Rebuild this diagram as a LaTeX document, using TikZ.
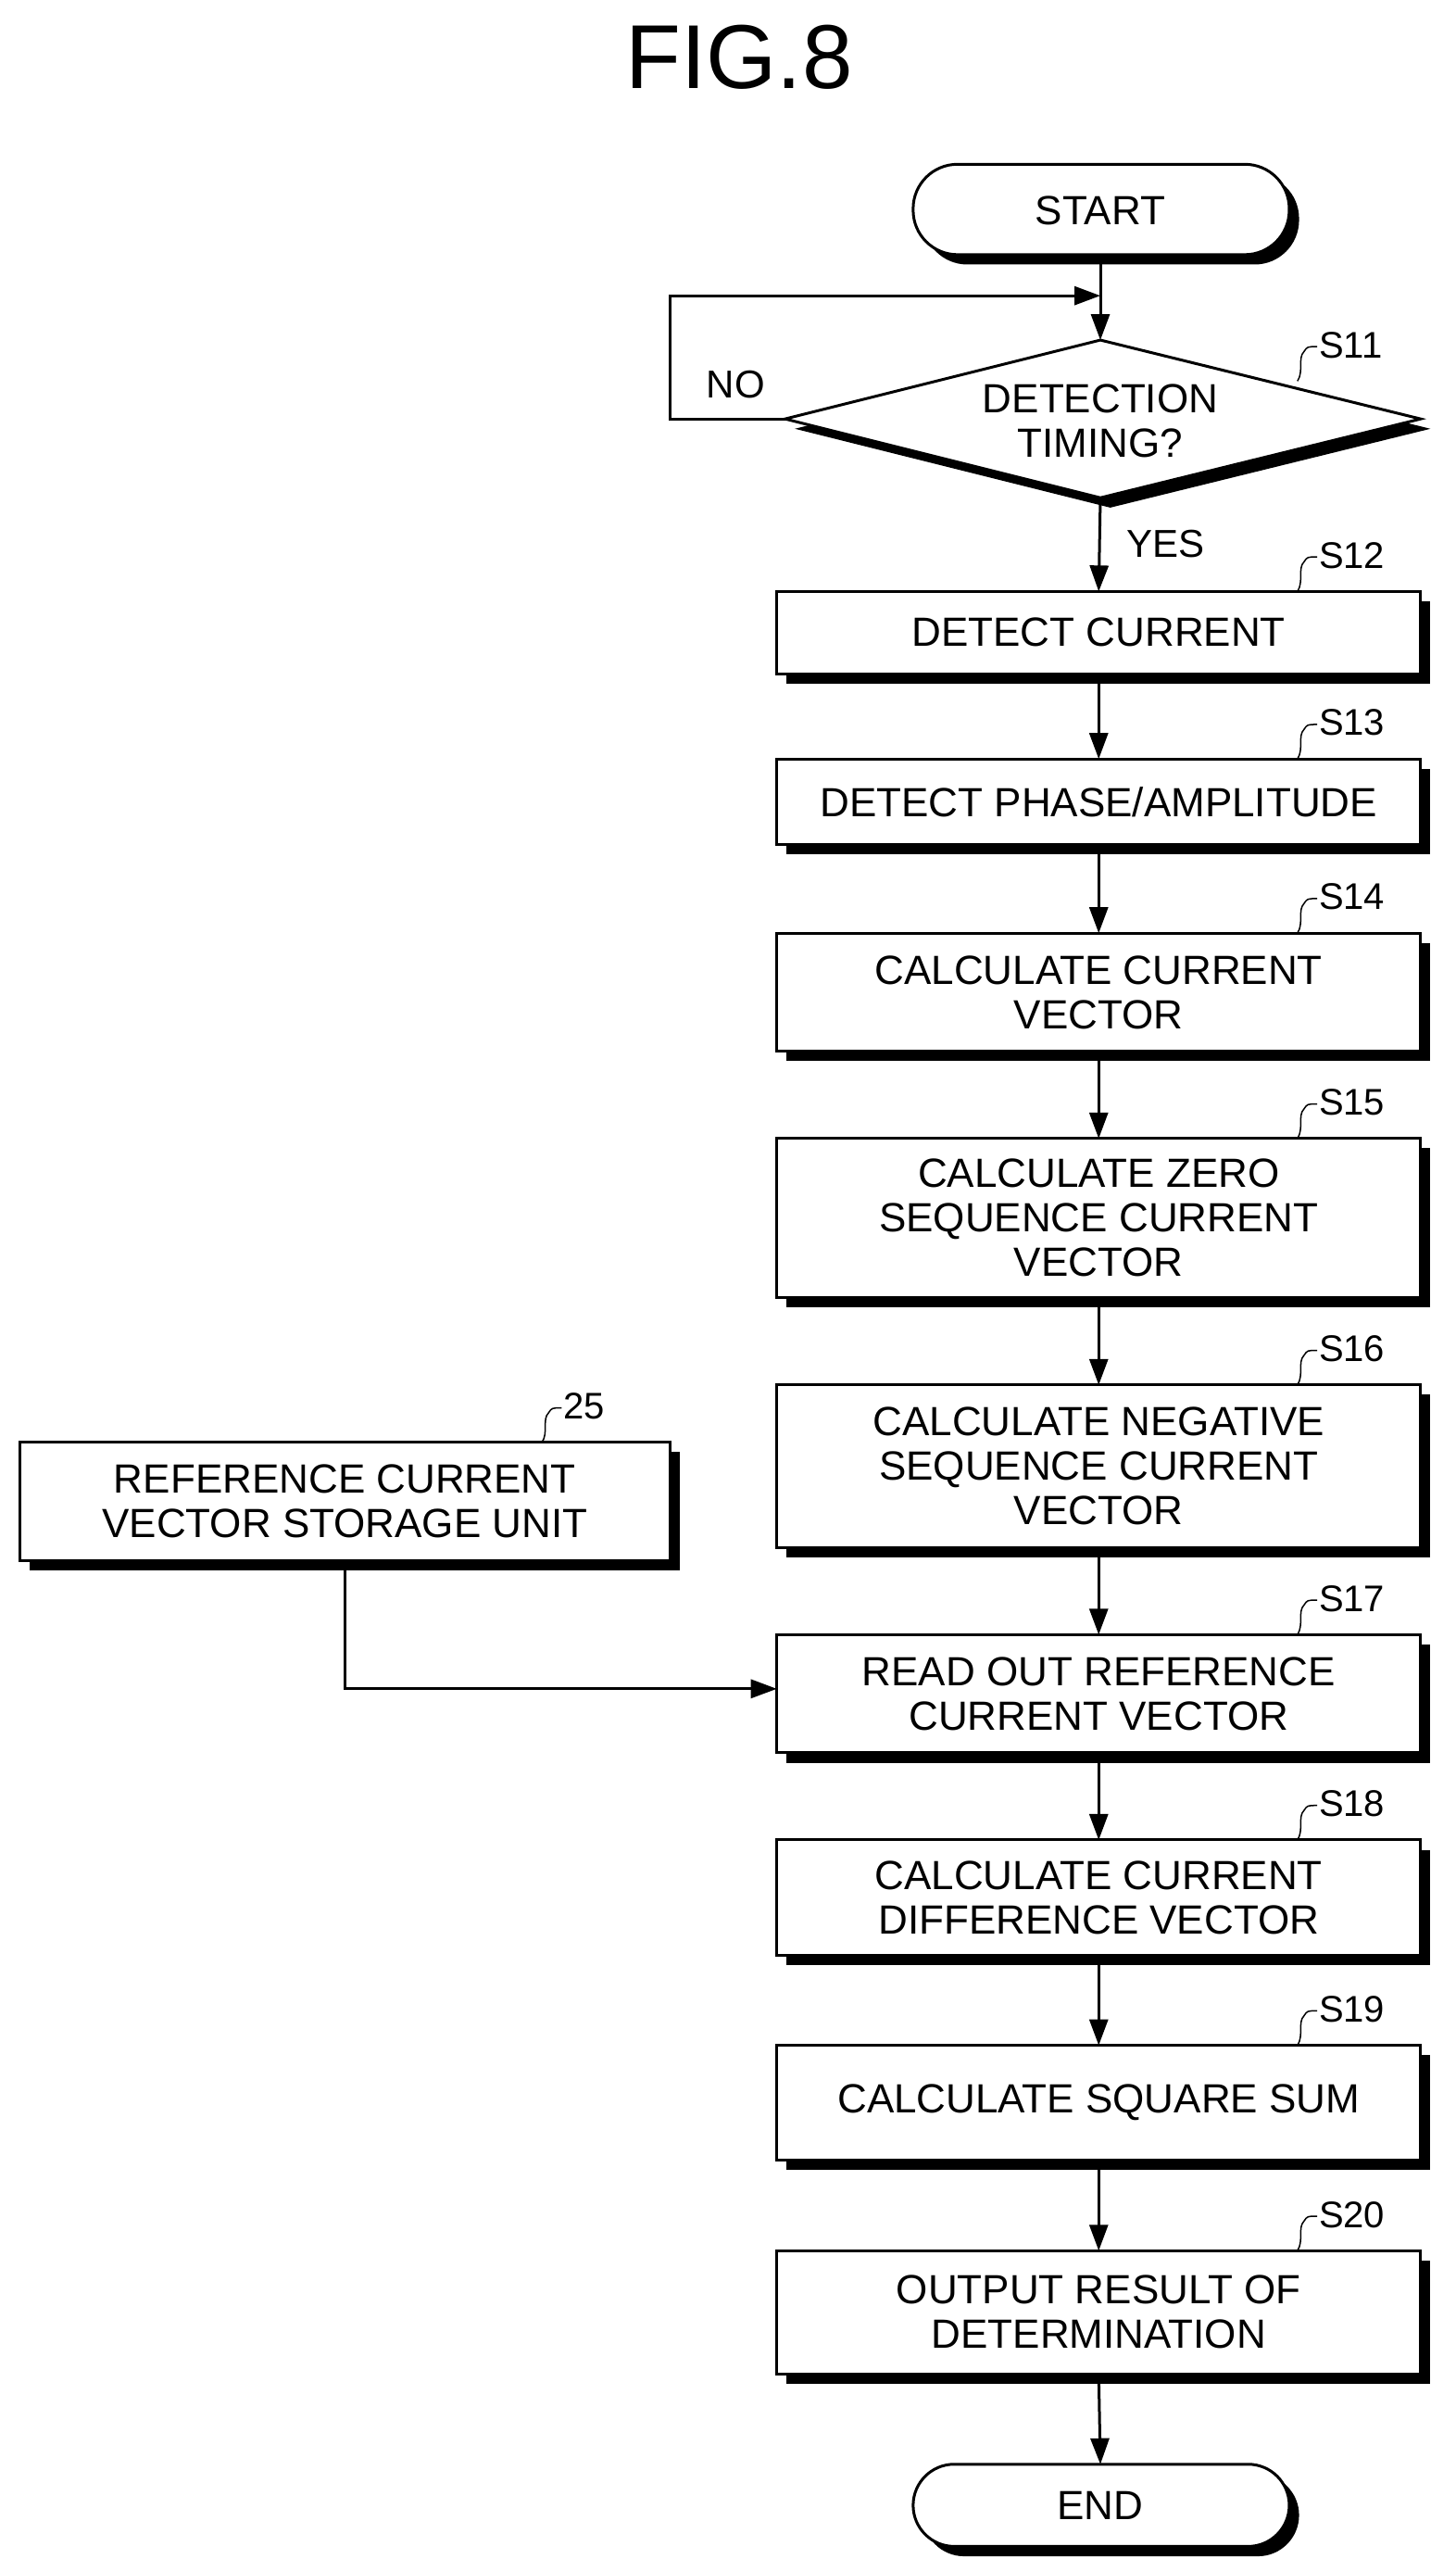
\documentclass[tikz,border=0pt]{standalone}
\usepackage{fontspec}
\setmainfont{Liberation Sans}
\usetikzlibrary{shapes.geometric,arrows.meta}
\begin{document}
\begin{tikzpicture}[x=1.773pt,y=-1.773pt,
  txt/.style={font=\fontsize{44}{48}\selectfont, align=center, inner sep=0pt},
  lab/.style={font=\fontsize{42}{46}\selectfont, inner sep=0pt},
  ln/.style={line width=3pt},
  arr/.style={ln,-{Triangle[length=28pt,width=20pt]}}]
\useasboundingbox (0,0) rectangle (886,1565);
\node[font=\fontsize{98}{100}\selectfont] (title) at (450,35) {FIG.8};
\newcommand{\shbox}[5]{% name, x1,y1,x2,y2
  \fill[black] (#2+6,#3+6) rectangle (#4+6,#5+6);
  \draw[ln,fill=white] (#2,#3) rectangle (#4,#5);
  \coordinate (#1) at ({(#2+#4)/2},{(#3+#5)/2});
  \coordinate (#1t) at ({(#2+#4)/2},#3);
  \coordinate (#1b) at ({(#2+#4)/2},#5);
}
% START
\fill[black,rounded corners=27*1.773pt] (562,106) rectangle (791,161);
\draw[ln,fill=white,rounded corners=27*1.773pt] (556,100) rectangle (785,155);
\node[txt] (start) at (670,128) {START};
\coordinate (startb) at (670,155);
% diamond
\fill[black] (484,261) -- (676,213) -- (871,261) -- (676,309) -- cycle;
\draw[ln,fill=white] (478,255) -- (670,207) -- (865,255) -- (670,303) -- cycle;
\coordinate (dt) at (670,207); \coordinate (db) at (670,303); \coordinate (dl) at (478,255);
\node[txt] (s11) at (670,256) {DETECTION\\TIMING?};
\shbox{b12}{473}{360}{865}{410}
\shbox{b13}{473}{462}{865}{514}
\shbox{b14}{473}{568}{865}{640}
\shbox{b15}{473}{693}{865}{790}
\shbox{b16}{473}{843}{865}{942}
\shbox{b17}{473}{995}{865}{1067}
\shbox{b18}{473}{1120}{865}{1190}
\shbox{b19}{473}{1245}{865}{1315}
\shbox{b20}{473}{1370}{865}{1445}
\shbox{b25}{12}{878}{408}{950}
\node[txt] (t12) at (b12) {DETECT CURRENT};
\node[txt] (t13) at (b13) {DETECT PHASE/AMPLITUDE};
\node[txt] (t14) at (b14) {CALCULATE CURRENT\\VECTOR};
\node[txt] (t15) at (b15) {CALCULATE ZERO\\SEQUENCE CURRENT\\VECTOR};
\node[txt] (t16) at (b16) {CALCULATE NEGATIVE\\SEQUENCE CURRENT\\VECTOR};
\node[txt] (t17) at (b17) {READ OUT REFERENCE\\CURRENT VECTOR};
\node[txt] (t18) at (b18) {CALCULATE CURRENT\\DIFFERENCE VECTOR};
\node[txt] (t19) at (b19) {CALCULATE SQUARE SUM};
\node[txt] (t20) at (b20) {OUTPUT RESULT OF\\DETERMINATION};
\node[txt] (t25) at (b25) {REFERENCE CURRENT\\VECTOR STORAGE UNIT};
% END
\fill[black,rounded corners=25*1.773pt] (562,1506) rectangle (791,1556);
\draw[ln,fill=white,rounded corners=25*1.773pt] (556,1500) rectangle (785,1550);
\node[txt] (end) at (670,1525) {END};
\coordinate (endt) at (670,1500);
% connectors
\draw[arr] (startb) -- (dt);
\coordinate (lp) at (408,180);
\coordinate (jn) at (670,180);
\draw[arr] (dl) -- (408,255) -- (lp) -- (jn);
\draw[arr] (db) -- (b12t);
\draw[arr] (b12b) -- (b13t);
\draw[arr] (b13b) -- (b14t);
\draw[arr] (b14b) -- (b15t);
\draw[arr] (b15b) -- (b16t);
\draw[arr] (b16b) -- (b17t);
\draw[arr] (b17b) -- (b18t);
\draw[arr] (b18b) -- (b19t);
\draw[arr] (b19b) -- (b20t);
\draw[arr] (b20b) -- (endt);
\coordinate (b17l) at (473,1028);
\draw[arr] (210,950) -- (210,1028) -- (b17l);
% labels
\node[lab] (no) at (448,234) {NO};
\node[lab] (yes) at (710,331) {YES};
\newcommand{\slab}[4]{% name, x, y, text
  \draw[line width=1.5pt] (#2,#3) .. controls (#2+4,#3-6) and (#2,#3-14) .. (#2+4,#3-18) .. controls (#2+6,#3-21) .. (#2+12,#3-21);
  \node[lab,anchor=west,font=\fontsize{40}{44}\selectfont] (#1) at (#2+13,#3-22) {#4};
}
\slab{l11}{790}{232}{S11}
\slab{l12}{790}{360}{S12}
\slab{l13}{790}{462}{S13}
\slab{l14}{790}{568}{S14}
\slab{l15}{790}{693}{S15}
\slab{l16}{790}{843}{S16}
\slab{l17}{790}{995}{S17}
\slab{l18}{790}{1120}{S18}
\slab{l19}{790}{1245}{S19}
\slab{l20}{790}{1370}{S20}
\slab{l25}{330}{878}{25}
\end{tikzpicture}
\end{document}
